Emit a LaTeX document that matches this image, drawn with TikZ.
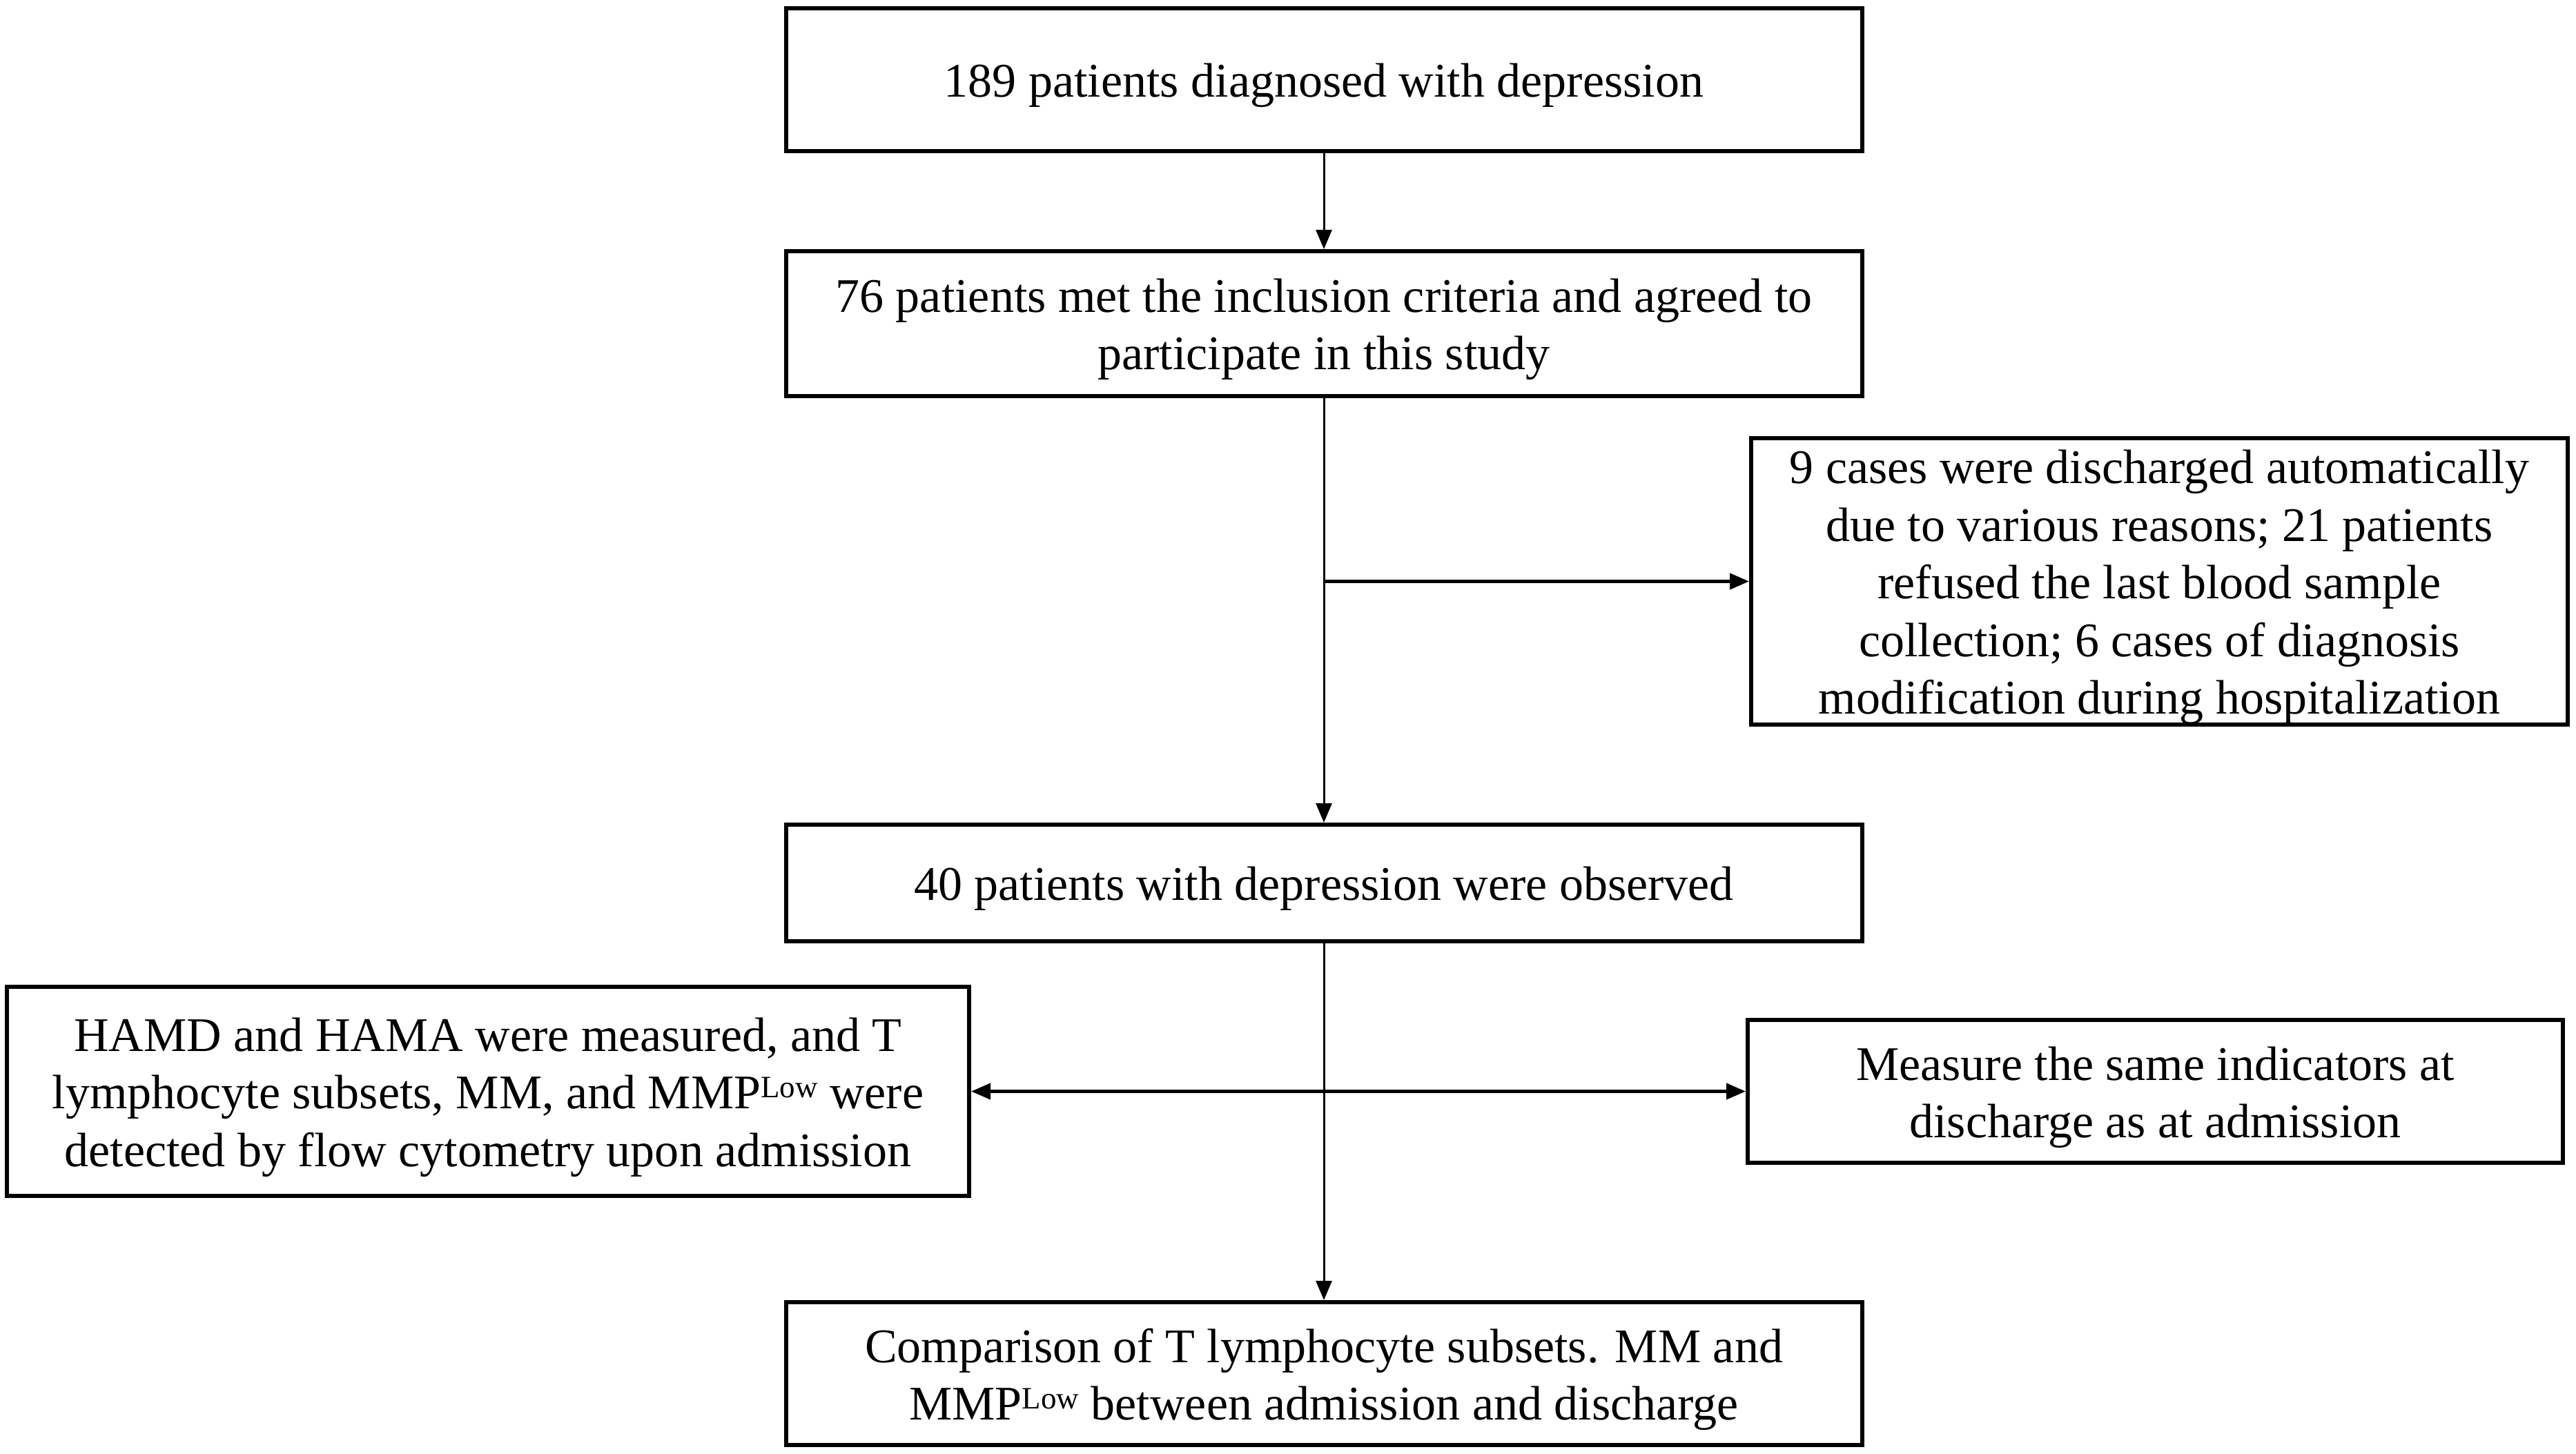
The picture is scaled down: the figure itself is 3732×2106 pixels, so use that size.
\documentclass[tikz,border=0pt]{standalone}
\usepackage{fontspec}
\setmainfont{Liberation Serif}
\usetikzlibrary{arrows.meta}
\newcommand{\lowsup}{\raisebox{3.3pt}{\fontsize{9}{9}\selectfont Low}}
\begin{document}
\begin{tikzpicture}[x=0.2pt,y=-0.2pt,
  box/.style={draw,line width=1.2pt,inner sep=0pt},
  txt/.style={align=center,inner sep=0pt,yshift=-1.7pt,
    font=\fontsize{14}{16.7}\selectfont},
  vconn/.style={line width=0.6pt,-{Triangle[length=5.6pt,width=4.6pt]}},
  hconn/.style={line width=0.9pt,-{Triangle[length=5.6pt,width=4.6pt]}},
  hboth/.style={line width=0.9pt,{Triangle[length=5.6pt,width=4.6pt]}-{Triangle[length=5.6pt,width=4.6pt]}}]
\useasboundingbox (0,0) rectangle (3732,2106);
\node[box,minimum width=311.8pt,minimum height=41.4pt,
  label={[txt]center:{189 patients diagnosed with depression}}] (b1) at (1918,115.5) {};
\node[box,minimum width=311.8pt,minimum height=42pt,
  label={[txt]center:{76 patients met the inclusion criteria and agreed to\\participate in this study}}] (b2) at (1918,469) {};
\node[box,minimum width=236.6pt,minimum height=83pt,
  label={[txt]center:{9 cases were discharged automatically\\due to various reasons; 21 patients\\refused the last blood sample\\collection; 6 cases of diagnosis\\modification during hospitalization}}] (b3) at (3128.5,842.5) {};
\node[box,minimum width=311.8pt,minimum height=33.8pt,
  label={[txt]center:{40 patients with depression were observed}}] (b4) at (1918,1279.5) {};
\node[box,minimum width=278.8pt,minimum height=60.6pt,
  label={[txt]center:{HAMD and HAMA were measured, and T\\lymphocyte subsets, MM, and MMP\lowsup{} were\\detected by flow cytometry upon admission}}] (b5) at (707,1581.5) {};
\node[box,minimum width=236.2pt,minimum height=41.4pt,
  label={[txt]center:{Measure the same indicators at\\discharge as at admission}}] (b6) at (3122.5,1581.5) {};
\node[box,minimum width=311.8pt,minimum height=41.4pt,
  label={[txt]center:{Comparison of T lymphocyte subsets. MM and\\MMP\lowsup{} between admission and discharge}}] (b7) at (1918,1990.5) {};
\coordinate (j1) at (b3.west -| b2.south);
\draw[vconn] (b1) -- (b2);
\draw[vconn] (b2) -- (b4);
\draw[hconn] (j1) -- (b3.west);
\draw[vconn] (b4) -- (b7);
\draw[hboth] (b5.east) -- (b6.west);
\end{tikzpicture}
\end{document}
